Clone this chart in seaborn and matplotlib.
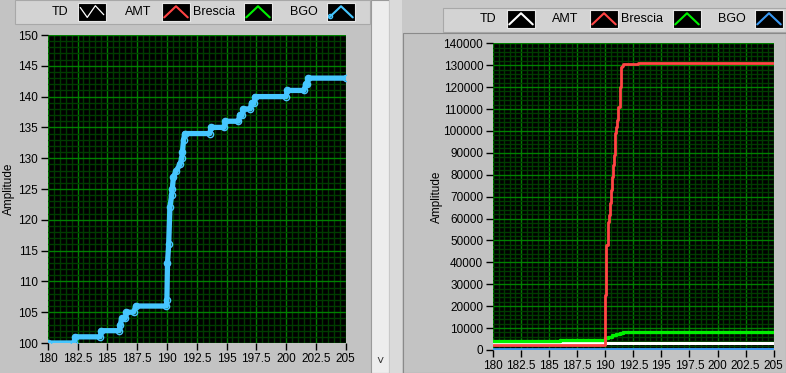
import matplotlib
matplotlib.use("Agg")
import matplotlib.pyplot as plt
import seaborn as sns
import numpy as np
import pandas as pd
from matplotlib.patches import Rectangle
from matplotlib.ticker import MultipleLocator

# ---------------- data ----------------
x_ticks = [180, 182.5, 185, 187.5, 190, 192.5, 195, 197.5, 200, 202.5, 205]
x_tick_labels = ["180", "182.5", "185", "187.5", "190", "192.5", "195", "197.5", "200", "202.5", "205"]
left_y_ticks = [100, 105, 110, 115, 120, 125, 130, 135, 140, 145, 150]
right_y_ticks = [0, 10000, 20000, 30000, 40000, 50000, 60000, 70000,
                 80000, 90000, 100000, 110000, 120000, 130000, 140000]
series_names = ["TD", "AMT", "Brescia", "BGO"]

bgo_x = [180, 182.2, 182.3, 184.4, 184.5, 186.0, 186.1, 186.2, 186.5, 186.6, 187.2, 187.4,
         189.95, 190.0, 190.05, 190.15, 190.25, 190.4, 190.45, 190.55, 190.8, 191.1, 191.25,
         191.3, 191.4, 191.5, 193.6, 193.7, 194.8, 194.9, 196.0, 196.1, 196.3, 196.4, 197.0,
         197.1, 197.3, 197.4, 200.0, 200.1, 201.5, 201.65, 201.75, 201.85, 205]
bgo_y = [100, 100, 101, 101, 102, 102, 103, 104, 104, 105, 105, 106,
         106, 107, 113, 116, 122, 124, 125, 127, 128, 129, 130,
         131, 133, 134, 134, 135, 135, 136, 136, 137, 137, 138, 138,
         139, 139, 140, 140, 141, 141, 142, 142, 143, 143]

amt_x = [180, 190.0, 190.05, 190.1, 190.2, 190.28, 190.35, 190.42, 190.5, 190.57, 190.68,
         190.75, 190.83, 190.9, 190.98, 191.06, 191.13, 191.27, 191.36, 191.45, 191.6,
         191.9, 192.9, 205]
amt_y = [2200, 25000, 38000, 48000, 55500, 58600, 61600, 67000, 73000, 79000, 84400,
         89000, 93600, 98900, 101600, 105000, 111000, 120200, 129000, 129600, 130400,
         130700, 131100, 131100]

brescia_x = [180, 186.0, 190.0, 190.2, 190.57, 190.93, 191.3, 191.6, 205]
brescia_y = [4100, 4600, 5300, 6100, 6800, 7300, 7900, 8300, 8300]

td_x = [180, 205]
td_y = [3000, 3000]

# ---------------- styling ----------------
sns.set_theme(style="ticks")
plt.rcParams['font.family'] = ['Liberation Sans', 'DejaVu Sans']
plt.rcParams['text.color'] = 'black'
plt.rcParams['axes.labelcolor'] = 'black'
plt.rcParams['xtick.color'] = 'black'
plt.rcParams['ytick.color'] = 'black'

W, H = 786, 373
BG = '#c3c3c3'
fig = plt.figure(figsize=(W / 100, H / 100), dpi=100, facecolor=BG)


def prect(x0, y0, x1, y1, **kw):
    fig.patches.append(Rectangle((x0 / W, 1 - y1 / H), (x1 - x0) / W, (y1 - y0) / H,
                                 transform=fig.transFigure, figure=fig, zorder=-5, **kw))


# window decorations
prect(0, 0, 371, 373, facecolor=BG, edgecolor='none')
prect(15, 0, 370, 24, facecolor='#d3d3d3', edgecolor='#a8a8a8', lw=0.8)
prect(371, 0, 389, 373, facecolor='#ededed', edgecolor='#9a9a9a', lw=0.8)
prect(389, 0, 786, 373, facecolor='#c8c8c8', edgecolor='none')
prect(390, 0, 402, 373, facecolor='#dadada', edgecolor='none')
prect(443, 8, 786, 32, facecolor='#d3d3d3', edgecolor='#a8a8a8', lw=0.8)
prect(403, 33, 786, 373, facecolor=BG, edgecolor='#8a8a8a', lw=0.8)
fig.text(380 / W, 1 - 362 / H, "\u02c5", ha='center', va='center', fontsize=9, color='#333333')

FS = 8.5


def style(ax, yticks, ylim, yminor, labelx):
    ax.set_facecolor('black')
    ax.set_xlim(180, 205)
    ax.set_ylim(*ylim)
    ax.set_xticks(x_ticks)
    ax.set_xticklabels(x_tick_labels)
    ax.set_yticks(yticks)
    ax.set_yticklabels([str(v) for v in yticks])
    ax.xaxis.set_minor_locator(MultipleLocator(0.5))
    ax.yaxis.set_minor_locator(MultipleLocator(yminor))
    ax.grid(which='minor', color='#003c00', lw=1)
    ax.grid(which='major', color='#008000', lw=1)
    ax.set_axisbelow(True)
    ax.tick_params(which='major', direction='out', length=5, width=1, color='black',
                   labelsize=FS, pad=2, bottom=True, left=True, labelcolor='black')
    ax.tick_params(which='minor', length=0, bottom=False, left=False)
    for s in ax.spines.values():
        s.set_visible(False)
    ax.set_xlabel("")
    ax.set_ylabel("Amplitude", fontsize=FS, color='black')
    ax.yaxis.set_label_coords(labelx, 0.5)


# left graph
axL = fig.add_axes([47.7 / W, 1 - 343 / H, 298 / W, 308 / H])
sns.lineplot(x=bgo_x, y=bgo_y, ax=axL, color='#46c6ff', lw=3.8, marker='o', markersize=4.5,
             markerfacecolor='none', markeredgecolor='#46c6ff', markeredgewidth=1.0,
             estimator=None, sort=False, legend=False)
style(axL, left_y_ticks, (100, 150), 1, -0.11)

# right graph
axR = fig.add_axes([493 / W, 1 - 350 / H, 280.7 / W, 306.7 / H])
sns.lineplot(x=td_x, y=td_y, ax=axR, color='white', lw=2.2, estimator=None, legend=False)
sns.lineplot(x=brescia_x, y=brescia_y, ax=axR, color='#00f000', lw=2.4, drawstyle='steps-post',
             estimator=None, sort=False, legend=False)
sns.lineplot(x=amt_x, y=amt_y, ax=axR, color='#ff4444', lw=2.0, drawstyle='steps-post',
             estimator=None, sort=False, legend=False)
sns.lineplot(x=bgo_x, y=bgo_y, ax=axR, color='#3a98f2', lw=2.4, estimator=None,
             sort=False, legend=False)
style(axR, right_y_ticks, (0, 140000), 2000, -0.178)

# legends (text + glyph boxes)
glyph_colors = ['white', '#ff4444', '#00f000', '#46c6ff']
left_text_x = [60, 138, 214, 304]
left_box_x = [78, 162, 244, 327]
right_text_x = [488, 565, 642, 732]
right_box_x = [507, 590, 673, 755]
right_glyph_colors = ['white', '#ff4444', '#00f000', '#3a98f2']


def legend_box(x0, y0, w, h, color, zig=False, mark=False):
    a = fig.add_axes([x0 / W, 1 - (y0 + h) / H, w / W, h / H])
    a.set_facecolor('black')
    a.set_xlim(0, 1)
    a.set_ylim(0, 1)
    a.set_xticks([])
    a.set_yticks([])
    for s in a.spines.values():
        s.set_color('#e6e6e6')
        s.set_linewidth(0.8)
    if zig:
        gx, gy = [0.08, 0.33, 0.62, 0.92], [0.75, 0.2, 0.85, 0.35]
        a.plot(gx, gy, color=color, lw=0.9)
    else:
        gx, gy = [0.08, 0.5, 0.92], [0.2, 0.82, 0.2]
        a.plot(gx, gy, color=color, lw=1.5)
        if mark:
            a.plot([0.12], [0.3], 'o', ms=3, mfc='none', mec=color, mew=1)


for i, name in enumerate(series_names):
    fig.text(left_text_x[i] / W, 1 - 12 / H, name, ha='center', va='center', fontsize=9,
             color='black')
    legend_box(left_box_x[i], 3, 28, 18, glyph_colors[i], zig=(i == 0), mark=(i == 3))
    fig.text(right_text_x[i] / W, 1 - 19 / H, name, ha='center', va='center', fontsize=9,
             color='black')
    legend_box(right_box_x[i], 10, 28, 18, right_glyph_colors[i])

fig.savefig("out.png", dpi=100, facecolor=BG)
